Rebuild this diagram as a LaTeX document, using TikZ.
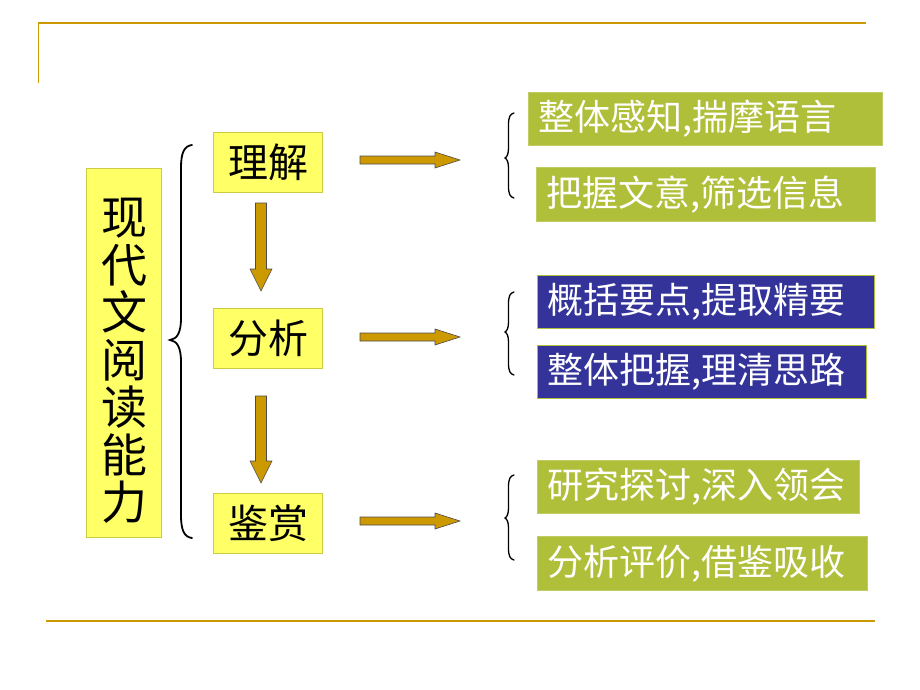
\documentclass[tikz,border=0pt]{standalone}
\usepackage{fontspec}
\setmainfont{Noto Sans CJK SC}
\definecolor{gold}{HTML}{CC9900}
\definecolor{lyel}{HTML}{FFFF66}
\definecolor{lyelb}{HTML}{CCCC44}
\definecolor{olive}{HTML}{B0BF3A}
\definecolor{navy}{HTML}{333399}
\tikzset{
  ybox/.style={fill=lyel, draw=lyelb, line width=1pt, inner sep=0pt, anchor=north west},
  gbox/.style={fill=olive, draw=olive!80!white, line width=1pt, anchor=north west, inner xsep=10pt, inner ysep=0pt, align=left, text=white, font=\fontsize{36}{38}\selectfont},
  nbox/.style={gbox, fill=navy, draw=olive},
  lbl/.style={font=\fontsize{40}{42}\selectfont},
  blk/.style={fill=gold, draw=black!70, line width=0.6pt},
  brace/.style={draw=black, line width=1.8pt, line cap=round},
  sbrace/.style={draw=black, line width=1.3pt, line cap=round}
}
\begin{document}
\begin{tikzpicture}[x=1pt, y=-1pt]
\useasboundingbox (0,0) rectangle (920,690);
% frame lines
\draw[gold, line width=2pt] (38,23) -- (866,23);
\draw[gold, line width=0.8pt] (38,23) -- (38,83);
\draw[gold, line width=2pt] (46,621) -- (875,621);
% main box
\node[ybox, minimum width=75pt, minimum height=369pt] (main) at (86,168) {};
\node[align=center, font=\fontsize{46}{47.5}\selectfont] (maint) at ([yshift=-8pt]main.center) {现\\代\\文\\阅\\读\\能\\力};
% big brace
\draw[brace] (192,145) .. controls (184,146) and (181,153) .. (181,168) -- (181,318)
  .. controls (181,333) and (177,339) .. (170,340)
  .. controls (177,341) and (181,347) .. (181,362) -- (181,515)
  .. controls (181,530) and (184,537) .. (192,538);
% left small boxes
\node[ybox, minimum width=109pt, minimum height=60pt] (lj) at (213,132) {};
\node[lbl] (ljt) at (lj.center) {理解};
\node[ybox, minimum width=109pt, minimum height=60pt] (fx) at (213,308) {};
\node[lbl] (fxt) at (fx.center) {分析};
\node[ybox, minimum width=109pt, minimum height=60pt] (js) at (213,493) {};
\node[lbl] (jst) at (js.center) {鉴赏};
% down arrows
\filldraw[blk] (255.5,203) -- (266.5,203) -- (266.5,269) -- (272,269) -- (261,291) -- (250,269) -- (255.5,269) -- cycle;
\filldraw[blk] (255.5,396) -- (266.5,396) -- (266.5,461) -- (272,461) -- (261,483) -- (250,461) -- (255.5,461) -- cycle;
% right arrows
\foreach \c in {160,337,521}{
  \filldraw[blk] (360,\c-4) -- (435,\c-4) -- (435,\c-8) -- (460,\c) -- (435,\c+8) -- (435,\c+4) -- (360,\c+4) -- cycle;
}
% small braces
\foreach \t/\m/\b in {113/158/198, 292/332/375, 475/518/560}{
  \draw[sbrace] (514,\t) .. controls (510,\t+1) and (508.5,\t+4) .. (508.5,\t+12) -- (508.5,\m-10)
    .. controls (508.5,\m-4) and (507,\m-1) .. (505,\m)
    .. controls (507,\m+1) and (508.5,\m+4) .. (508.5,\m+10) -- (508.5,\b-12)
    .. controls (508.5,\b-4) and (510,\b-1) .. (514,\b);
}
% right boxes
\node[gbox, minimum width=354pt, minimum height=53pt, text width=334pt] (r1) at (528,92) {整体感知,揣摩语言};
\node[gbox, minimum width=339pt, minimum height=54pt, text width=319pt] (r2) at (536,167) {把握文意,筛选信息};
\node[nbox, minimum width=337pt, minimum height=53pt, text width=317pt] (r3) at (537,275) {概括要点,提取精要};
\node[nbox, minimum width=329pt, minimum height=53pt, text width=309pt] (r4) at (537,345) {整体把握,理清思路};
\node[gbox, minimum width=322pt, minimum height=53pt, text width=302pt] (r5) at (537,460) {研究探讨,深入领会};
\node[gbox, minimum width=330pt, minimum height=54pt, text width=310pt] (r6) at (537,536) {分析评价,借鉴吸收};
\end{tikzpicture}
\end{document}
